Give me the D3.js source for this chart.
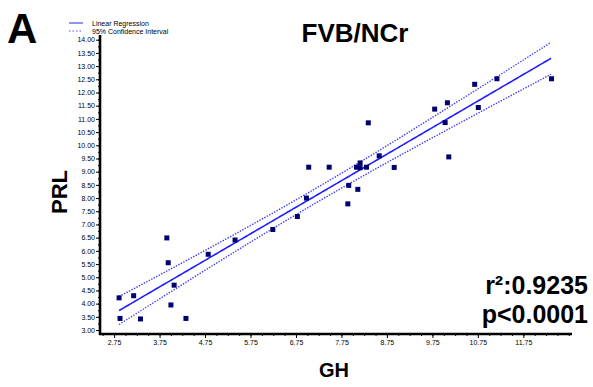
<!DOCTYPE html>
<html>
<head>
<meta charset="utf-8">
<script src="https://cdn.jsdelivr.net/npm/d3@7"></script>
<style>
  body { margin: 0; background: #fff; }
  svg { font-family: "Liberation Sans", Arial, sans-serif; }
</style>
</head>
<body>
<svg id="chart" width="593" height="387"></svg>
<script>
"use strict";

// GH vs PRL
const ghValues = [2.88, 2.86, 3.18, 3.33, 3.91, 3.94, 4.0, 4.07, 4.33, 4.82, 5.41, 6.24,
  6.78, 6.98, 7.03, 7.48, 7.89, 7.91, 8.11, 8.08, 8.16, 8.16, 8.3, 8.34, 8.58, 8.91,
  9.8, 10.08, 10.03, 10.11, 10.68, 10.76, 11.17, 12.37];
const prlValues = [3.44, 4.22, 4.3, 3.42, 6.49, 5.55, 3.95, 4.7, 3.44, 5.87, 6.41, 6.81,
  7.3, 8.0, 9.17, 9.17, 7.78, 8.48, 8.33, 9.17, 9.33, 9.15, 9.17, 10.85, 9.6, 9.16,
  11.37, 11.61, 10.86, 9.56, 12.31, 11.43, 12.52, 12.52];

const xTickLabels = [2.75, 3.75, 4.75, 5.75, 6.75, 7.75, 8.75, 9.75, 10.75, 11.75];
const yTickLabels = d3.range(3, 14.01, 0.5);
const legendLabels = ["Linear Regression", "95% Confidence Interval"];
const statLabels = ["r\u00b2:0.9235", "p<0.0001"];

const svg = d3.select("#chart");

const x = d3.scaleLinear().domain([2.44, 12.82]).range([100, 572]);
const y = d3.scaleLinear().domain([2.85, 14.14]).range([334, 36]);

// least squares fit + 95% CI of the mean
const n = ghValues.length;
const mx = d3.mean(ghValues);
const my = d3.mean(prlValues);
let sxx = 0, sxy = 0;
ghValues.forEach((v, i) => {
  sxx += (v - mx) * (v - mx);
  sxy += (v - mx) * (prlValues[i] - my);
});
const slope = sxy / sxx;
const intercept = my - slope * mx;
let sse = 0;
ghValues.forEach((v, i) => {
  const r = prlValues[i] - (intercept + slope * v);
  sse += r * r;
});
const se = Math.sqrt(sse / (n - 2));
const tCrit = 2.037;

const fitX = d3.range(d3.min(ghValues), d3.max(ghValues) + 0.001, 0.05);
const fit = fitX.map((v) => {
  const yh = intercept + slope * v;
  const h = tCrit * se * Math.sqrt(1 / n + (v - mx) * (v - mx) / sxx);
  return { x: v, y: yh, lo: yh - h, hi: yh + h };
});

const line = (key) => d3.line().x((d) => x(d.x)).y((d) => y(d[key]));

svg.append("path").datum(fit).attr("d", line("y"))
  .attr("fill", "none").attr("stroke", "#1f1fff").attr("stroke-width", 1.6);
["lo", "hi"].forEach((k) => {
  svg.append("path").datum(fit).attr("d", line(k))
    .attr("fill", "none").attr("stroke", "#3a3aff").attr("stroke-width", 1.4)
    .attr("stroke-dasharray", "1.4,1.4");
});

// points
svg.append("g").selectAll("rect")
  .data(ghValues)
  .enter()
  .append("rect")
  .attr("x", (d) => x(d) - 2.5)
  .attr("y", (d, i) => y(prlValues[i]) - 2.5)
  .attr("width", 5)
  .attr("height", 5)
  .attr("fill", "#00006e");

// y axis
const yAxis = svg.append("g").attr("transform", "translate(100,0)");
yAxis.append("g")
  .call(d3.axisLeft(y).tickValues(d3.range(3, 14.01, 0.25)).tickSize(2).tickFormat(""))
  .call((g) => g.select(".domain").remove());
yAxis.append("g")
  .call(d3.axisLeft(y).tickValues(yTickLabels).tickSize(4).tickPadding(1)
    .tickFormat(d3.format(".2f")))
  .call((g) => g.select(".domain").remove())
  .selectAll("text").attr("font-size", 7).attr("font-family", "Liberation Sans, Arial");
yAxis.selectAll(".tick line").attr("stroke", "#000");
yAxis.append("line").attr("x1", 0).attr("x2", 0).attr("y1", 35).attr("y2", 335)
  .attr("stroke", "#000").attr("stroke-width", 2.6);

// x axis
const xAxis = svg.append("g").attr("transform", "translate(0,334)");
xAxis.append("g")
  .call(d3.axisBottom(x).tickValues(d3.range(2.5, 12.76, 0.25)).tickSize(2).tickFormat(""))
  .call((g) => g.select(".domain").remove());
xAxis.append("g")
  .call(d3.axisBottom(x).tickValues(xTickLabels).tickSize(4).tickPadding(2)
    .tickFormat(d3.format(".2f")))
  .call((g) => g.select(".domain").remove())
  .selectAll("text").attr("font-size", 7).attr("font-family", "Liberation Sans, Arial");
xAxis.append("line").attr("x1", 99).attr("x2", 572).attr("y1", 0).attr("y2", 0)
  .attr("stroke", "#000").attr("stroke-width", 2.6);

// titles
svg.append("text").text("A").attr("x", 7).attr("y", 43)
  .attr("font-size", 42).attr("font-weight", "bold");
svg.append("text").text("FVB/NCr").attr("x", 355).attr("y", 42)
  .attr("text-anchor", "middle").attr("font-size", 26).attr("font-weight", "bold");
svg.append("text").text("GH").attr("x", 334).attr("y", 377)
  .attr("text-anchor", "middle").attr("font-size", 20).attr("font-weight", "bold");
svg.append("text").text("PRL")
  .attr("transform", "translate(67,192) rotate(-90)")
  .attr("text-anchor", "middle").attr("font-size", 22).attr("font-weight", "bold");

// stats
statLabels.forEach((s, i) => {
  svg.append("text").text(s).attr("x", 588).attr("y", 294 + i * 29)
    .attr("text-anchor", "end").attr("font-size", 25).attr("font-weight", "bold");
});

// legend
const legend = svg.append("g");
legendLabels.forEach((s, i) => {
  const ly = 23 + i * 8;
  legend.append("line").attr("x1", 69).attr("x2", 83).attr("y1", ly).attr("y2", ly)
    .attr("stroke", "#4a4aff").attr("stroke-width", 1.2)
    .attr("stroke-dasharray", i ? "1.5,2" : null);
  legend.append("text").text(s).attr("x", 92).attr("y", ly + 2.5).attr("font-size", 7);
});
</script>
</body>
</html>
